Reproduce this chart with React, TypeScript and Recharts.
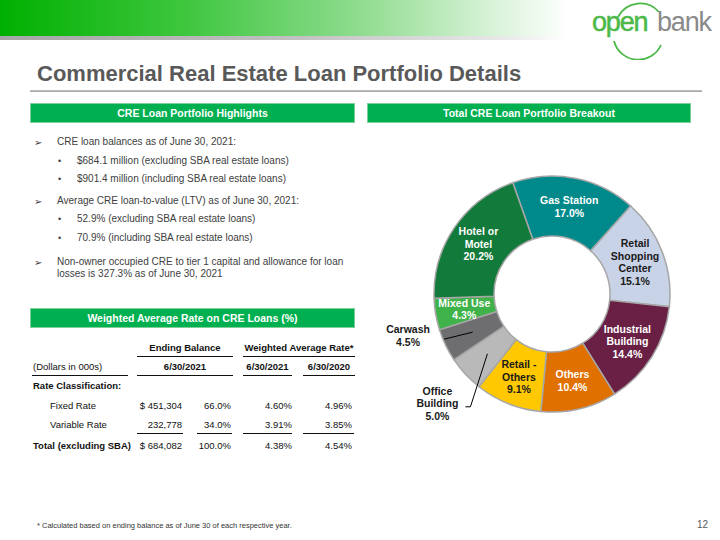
import React from 'react'
import { PieChart, Pie, Cell } from 'recharts'

// donut slices, clockwise from the Gas Station slice
const sliceNames = ['Gas Station', 'Retail Shopping Center', 'Industrial Building', 'Others', 'Retail - Others', 'Office Building', 'Carwash', 'Mixed Use', 'Hotel or Motel']
const sliceShares = [17.0, 15.1, 14.4, 10.4, 9.1, 5.0, 4.5, 4.3, 20.2]
const sliceColors = ['#00898a', '#c9d3e7', '#6a1f45', '#e07000', '#ffc800', '#b9b9b9', '#6e6e70', '#3fb24a', '#127a3a']
const labelLines = [['Gas Station'], ['Retail', 'Shopping', 'Center'], ['Industrial', 'Building'], ['Others'], ['Retail -', 'Others'], ['Office', 'Building'], ['Carwash'], ['Mixed Use'], ['Hotel or', 'Motel']]
const darkLabel = ['Retail Shopping Center', 'Retail - Others']
const outsideLabel = ['Office Building', 'Carwash']

const highlights = [
  { level: 1, text: 'CRE loan balances as of June 30, 2021:' },
  { level: 2, text: '$684.1 million (excluding SBA real estate loans)' },
  { level: 2, text: '$901.4 million (including SBA real estate loans)' },
  { level: 1, text: 'Average CRE loan-to-value (LTV) as of June 30, 2021:' },
  { level: 2, text: '52.9% (excluding SBA real estate loans)' },
  { level: 2, text: '70.9% (including SBA real estate loans)' },
  { level: 1, text: 'Non-owner occupied CRE to tier 1 capital and allowance for loan', more: 'losses is 327.3% as of June 30, 2021' },
]

const rateRows = ['Fixed Rate', 'Variable Rate']
const endingBalance = ['$ 451,304', '232,778']
const balanceShare = ['66.0%', '34.0%']
const rate2021 = ['4.60%', '3.91%']
const rate2020 = ['4.96%', '3.85%']
const totalRow = ['Total (excluding SBA)', '$ 684,082', '100.0%', '4.38%', '4.54%']

const FONT = '"Liberation Sans", Arial, sans-serif'
const RAD = Math.PI / 180

const pieData = sliceNames.map((name, i) => ({ name, value: sliceShares[i] }))

function polar(cx: number, cy: number, r: number, angle: number) {
  return { x: cx + r * Math.cos(-angle * RAD), y: cy + r * Math.sin(-angle * RAD) }
}

function SliceLabel(props: any) {
  const { cx, cy, midAngle, innerRadius, outerRadius, index } = props
  const name = sliceNames[index]
  const lines = [...labelLines[index], sliceShares[index].toFixed(1) + '%']
  const lh = 12.5
  if (outsideLabel.includes(name)) {
    const p1 = polar(cx, cy, (innerRadius + outerRadius) / 2, midAngle)
    let p2, tx, ty
    if (name === 'Carwash') {
      p2 = polar(cx, cy, outerRadius - 1, midAngle - 3)
      tx = p2.x - 36
      ty = p2.y - 6
    } else {
      p2 = { x: p1.x - 17, y: p1.y + 53 }
      tx = p2.x - 33
      ty = p2.y - 12
    }
    return (
      <g>
        <polyline
          points={name === 'Carwash' ? `${p1.x},${p1.y} ${p2.x},${p2.y}` : `${p1.x},${p1.y} ${p2.x},${p2.y} ${p2.x - 5},${p2.y}`}
          fill="none" stroke="#000" strokeWidth={1} />
        <text x={tx} y={ty} textAnchor="middle" fontFamily={FONT} fontSize={10.5} fontWeight="bold" fill="#1a1a1a">
          {lines.map((l, k) => (
            <tspan key={k} x={tx} dy={k === 0 ? 0 : lh}>{l}</tspan>
          ))}
        </text>
      </g>
    )
  }
  const p = polar(cx, cy, (innerRadius + outerRadius) / 2 + 1, midAngle)
  const y0 = p.y - ((lines.length - 1) * lh) / 2 + 4
  return (
    <text x={p.x} y={y0} textAnchor="middle" fontFamily={FONT} fontSize={10.5} fontWeight="bold"
      fill={darkLabel.includes(name) ? '#1a1a1a' : '#ffffff'}>
      {lines.map((l, k) => (
        <tspan key={k} x={p.x} dy={k === 0 ? 0 : lh}>{l}</tspan>
      ))}
    </text>
  )
}

function SectionHeader({ x, y, w, text }: { x: number; y: number; w: number; text: string }) {
  return (
    <div style={{
      position: 'absolute', left: x, top: y, width: w, height: 20, background: '#00b050',
      border: '1px solid #7fcf9a', boxSizing: 'border-box', color: '#fff', fontWeight: 'bold',
      fontSize: 10.5, lineHeight: '18px', textAlign: 'center',
    }}>{text}</div>
  )
}

function Cell2({ x, y, w, text, align = 'left', bold = false }: { x: number; y: number; w: number; text: string; align?: any; bold?: boolean }) {
  return (
    <div style={{ position: 'absolute', left: x, top: y - 7, width: w, textAlign: align, fontSize: 9.5, lineHeight: '12px', fontWeight: bold ? 'bold' : 'normal', color: '#111', whiteSpace: 'nowrap' }}>{text}</div>
  )
}

function Rule({ x1, x2, y }: { x1: number; x2: number; y: number }) {
  return <div style={{ position: 'absolute', left: x1, top: y, width: x2 - x1, height: 1.3, background: '#111' }} />
}

export default function App() {
  const balanceCols = [137, 233]
  const rateCols = [243, 355]
  return (
    <div style={{ position: 'absolute', left: 0, top: 0, width: 720, height: 540, background: '#fff', fontFamily: FONT, overflow: 'hidden' }}>
      {/* banner */}
      <div style={{ position: 'absolute', left: 0, top: 0, width: 720, height: 36, background: 'linear-gradient(90deg, #00b000 0%, #3cc63c 25%, #8fdc8f 50%, #d6f2d6 68%, #ffffff 79%)' }} />
      <div style={{ position: 'absolute', left: 0, top: 36, width: 720, height: 4, background: 'linear-gradient(90deg, #a6a6a6 0%, #c0c0c0 40%, #e8e8e8 70%, #ffffff 79%)' }} />
      {/* logo */}
      <svg style={{ position: 'absolute', left: 570, top: 0 }} width={150} height={60}>
        <path d="M 48 17 A 25 25 0 0 1 89 12" fill="none" stroke="#4cb848" strokeWidth={1.8} />
        <path d="M 44 41 A 25 25 0 0 0 91 45" fill="none" stroke="#4cb848" strokeWidth={1.8} />
        <text x={22} y={31} fontFamily={FONT} fontSize={27} fill="#4cb848" letterSpacing={-1.2} stroke="#4cb848" strokeWidth={0.5}>open</text>
        <text x={87} y={31} fontFamily={FONT} fontSize={27} fill="#8a8a8a" letterSpacing={-1.2}>bank</text>
      </svg>
      {/* title */}
      <div style={{ position: 'absolute', left: 37, top: 61, fontSize: 22, fontWeight: 'bold', color: '#595959', whiteSpace: 'nowrap' }}>
        Commercial Real Estate Loan Portfolio Details
      </div>
      <div style={{ position: 'absolute', left: 30, top: 90, width: 672, height: 2, background: 'linear-gradient(180deg, #c8c8c8, #a0a0a0)' }} />

      <SectionHeader x={30} y={103} w={325} text="CRE Loan Portfolio Highlights" />
      <SectionHeader x={367} y={103} w={324} text="Total CRE Loan Portfolio Breakout" />
      <SectionHeader x={30} y={308} w={325} text="Weighted Average Rate on CRE Loans (%)" />

      {/* highlights */}
      {(() => {
        const ys = [143, 162, 180, 202, 220, 239, 263]
        return highlights.map((h, i) => (
          <div key={i}>
            <div style={{ position: 'absolute', left: h.level === 1 ? 34 : 58, top: ys[i] - 7, fontSize: h.level === 1 ? 10 : 9, lineHeight: '13px', color: '#404040', fontFamily: h.level === 1 ? '"DejaVu Sans"' : FONT }}>
              {h.level === 1 ? '\u27A2' : '\u2022'}
            </div>
            <div style={{ position: 'absolute', left: h.level === 1 ? 57 : 77, top: ys[i] - 7, fontSize: 10, lineHeight: '12px', color: '#404040', whiteSpace: 'nowrap' }}>
              {h.text}
              {h.more ? <br /> : null}
              {h.more}
            </div>
          </div>
        ))
      })()}

      {/* rate table */}
      <Cell2 x={balanceCols[0]} y={349} w={balanceCols[1] - balanceCols[0]} text="Ending Balance" align="center" bold />
      <Rule x1={balanceCols[0]} x2={balanceCols[1]} y={356} />
      <Cell2 x={rateCols[0]} y={349} w={rateCols[1] - rateCols[0]} text="Weighted Average Rate*" align="center" bold />
      <Rule x1={rateCols[0]} x2={rateCols[1]} y={356} />

      <Cell2 x={33} y={368} w={100} text="(Dollars in 000s)" />
      <Rule x1={32} x2={128} y={375} />
      <Cell2 x={137} y={368} w={96} text="6/30/2021" align="center" bold />
      <Rule x1={137} x2={233} y={375} />
      <Cell2 x={243} y={368} w={49} text="6/30/2021" align="center" bold />
      <Rule x1={243} x2={292} y={375} />
      <Cell2 x={303} y={368} w={52} text="6/30/2020" align="center" bold />
      <Rule x1={303} x2={355} y={375} />

      <Cell2 x={33} y={387} w={150} text="Rate Classification:" bold />
      {rateRows.map((r, i) => {
        const y = 407 + i * 19
        return (
          <React.Fragment key={r}>
            <Cell2 x={50} y={y} w={100} text={r} />
            <Cell2 x={120} y={y} w={62} text={endingBalance[i]} align="right" />
            <Cell2 x={190} y={y} w={41} text={balanceShare[i]} align="right" />
            <Cell2 x={240} y={y} w={52} text={rate2021[i]} align="right" />
            <Cell2 x={300} y={y} w={52} text={rate2020[i]} align="right" />
          </React.Fragment>
        )
      })}
      <Rule x1={137} x2={183} y={433} />
      <Rule x1={197} x2={232} y={433} />
      <Rule x1={243} x2={292} y={433} />
      <Rule x1={303} x2={354} y={433} />
      <Cell2 x={33} y={447} w={120} text={totalRow[0]} bold />
      <Cell2 x={120} y={447} w={62} text={totalRow[1]} align="right" />
      <Cell2 x={190} y={447} w={41} text={totalRow[2]} align="right" />
      <Cell2 x={240} y={447} w={52} text={totalRow[3]} align="right" />
      <Cell2 x={300} y={447} w={52} text={totalRow[4]} align="right" />

      {/* donut */}
      <div style={{ position: 'absolute', left: 367, top: 130 }}>
        <PieChart width={330} height={320}>
          <Pie
            data={pieData}
            dataKey="value"
            nameKey="name"
            cx={180}
            cy={159}
            innerRadius={58}
            outerRadius={118}
            startAngle={109.4}
            endAngle={-250.6}
            stroke="#a6a6a6"
            strokeWidth={1.5}
            labelLine={false}
            label={SliceLabel}
            isAnimationActive={false}
          >
            {pieData.map((d, i) => <Cell key={d.name} fill={sliceColors[i]} />)}
          </Pie>
        </PieChart>
      </div>

      {/* footer */}
      <div style={{ position: 'absolute', left: 37, top: 521, fontSize: 7.5, color: '#333', whiteSpace: 'nowrap' }}>
        * Calculated based on ending balance as of June 30 of each respective year.
      </div>
      <div style={{ position: 'absolute', left: 697, top: 519, fontSize: 10, color: '#595959' }}>12</div>
    </div>
  )
}
